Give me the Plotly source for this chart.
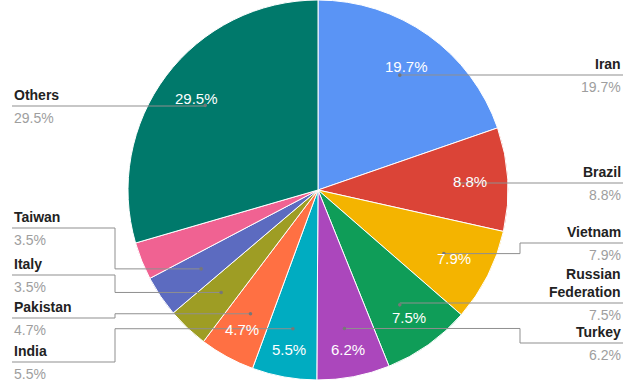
import math
import plotly.graph_objects as go

# ---- data ----
countries = ["Iran", "Brazil", "Vietnam", "Russian<br>Federation", "Turkey", "India",
             "Pakistan", "Italy", "Taiwan", "(unlabeled)", "Others"]
shares = [19.7, 8.8, 7.9, 7.5, 6.2, 5.5, 4.7, 3.5, 3.5, 3.2, 29.5]
colors = ["#5A94F5", "#DB4437", "#F4B400", "#0F9D58", "#AB47BC", "#00ACC1",
          "#FF7043", "#9E9D24", "#5C6BC0", "#F06292", "#00796B"]
show_label = [True, True, True, True, True, True, True, True, True, False, True]

# ---- layout constants (pixels) ----
W, H = 637, 390
CX, CY, R = 318, 190, 190
DOT_R = 0.742 * R
IN_R = 152
IN_PUSH = 11
INSIDE_MIN = 4.0
# label line y positions (label layout)
label_y = {"Iran": 75, "Brazil": 183, "Vietnam": 243, "Russian<br>Federation": 303,
           "Turkey": 343, "Others": 106, "Taiwan": 228, "Italy": 275,
           "Pakistan": 318, "India": 362}
RIGHT_END, RIGHT_ELBOW = 623, 520
LEFT_END, LEFT_ELBOW = 12, 115
FONT = "Liberation Sans, Arial, sans-serif"
LINE_COL = "#8f8f8f"


def X(px):
    return px / W


def Y(py):
    return 1 - py / H


fig = go.Figure(go.Pie(
    labels=countries, values=shares, sort=False, direction="clockwise", rotation=0,
    marker=dict(colors=colors, line=dict(color="white", width=1)),
    textinfo="none", hoverinfo="label+percent",
    domain=dict(x=[X(CX - R), X(CX + R)], y=[Y(CY + R), Y(CY - R)]),
    showlegend=False,
))

shapes = []
annotations = []
total = sum(shares)
cum = 0.0
for name, v, show in zip(countries, shares, show_label):
    a0 = cum / total * 360
    cum += v
    a1 = cum / total * 360
    mid = math.radians((a0 + a1) / 2)
    # inside percentage (pushed outward a little on the lower half)
    if v >= INSIDE_MIN:
        r_in = IN_R + IN_PUSH * max(0.0, -math.cos(mid)) ** 4
        annotations.append(dict(
            x=X(CX + r_in * math.sin(mid)), y=Y(CY - r_in * math.cos(mid)),
            xref="paper", yref="paper", text=f"{v}%", showarrow=False,
            font=dict(family=FONT, size=15, color="white"),
            xanchor="center", yanchor="middle"))
    if not show:
        continue
    dx, dy = CX + DOT_R * math.sin(mid), CY - DOT_R * math.cos(mid)
    ly = label_y[name]
    right = math.sin(mid) > 0
    end = RIGHT_END if right else LEFT_END
    elbow = RIGHT_ELBOW if right else LEFT_ELBOW
    line = dict(color=LINE_COL, width=1)
    if abs(ly - dy) < 3:
        shapes.append(dict(type="line", xref="paper", yref="paper",
                           x0=X(dx), y0=Y(ly), x1=X(end), y1=Y(ly), line=line))
    else:
        pts = [(dx, dy), (elbow, dy), (elbow, ly), (end, ly)]
        for (p0, q0), (p1, q1) in zip(pts[:-1], pts[1:]):
            shapes.append(dict(type="line", xref="paper", yref="paper",
                               x0=X(p0), y0=Y(q0), x1=X(p1), y1=Y(q1), line=line))
    shapes.append(dict(type="circle", xref="paper", yref="paper",
                       x0=X(dx - 1.8), x1=X(dx + 1.8), y0=Y(dy - 1.8), y1=Y(dy + 1.8),
                       fillcolor="#777777", line=dict(width=0)))
    anchor = "right" if right else "left"
    annotations.append(dict(
        x=X(end), y=Y(ly - 1), xref="paper", yref="paper", text=f"<b>{name}</b>",
        showarrow=False, xanchor=anchor, yanchor="bottom", align=anchor,
        font=dict(family=FONT, size=14, color="#222222")))
    annotations.append(dict(
        x=X(end), y=Y(ly + 2), xref="paper", yref="paper", text=f"{v}%",
        showarrow=False, xanchor=anchor, yanchor="top", align=anchor,
        font=dict(family=FONT, size=14, color="#9e9e9e")))

fig.update_layout(
    width=W, height=H, margin=dict(l=0, r=0, t=0, b=0),
    paper_bgcolor="white", plot_bgcolor="white",
    shapes=shapes, annotations=annotations,
)
fig.write_html("out.html", config={"displayModeBar": False},
               post_script="document.body.style.margin='0';")
